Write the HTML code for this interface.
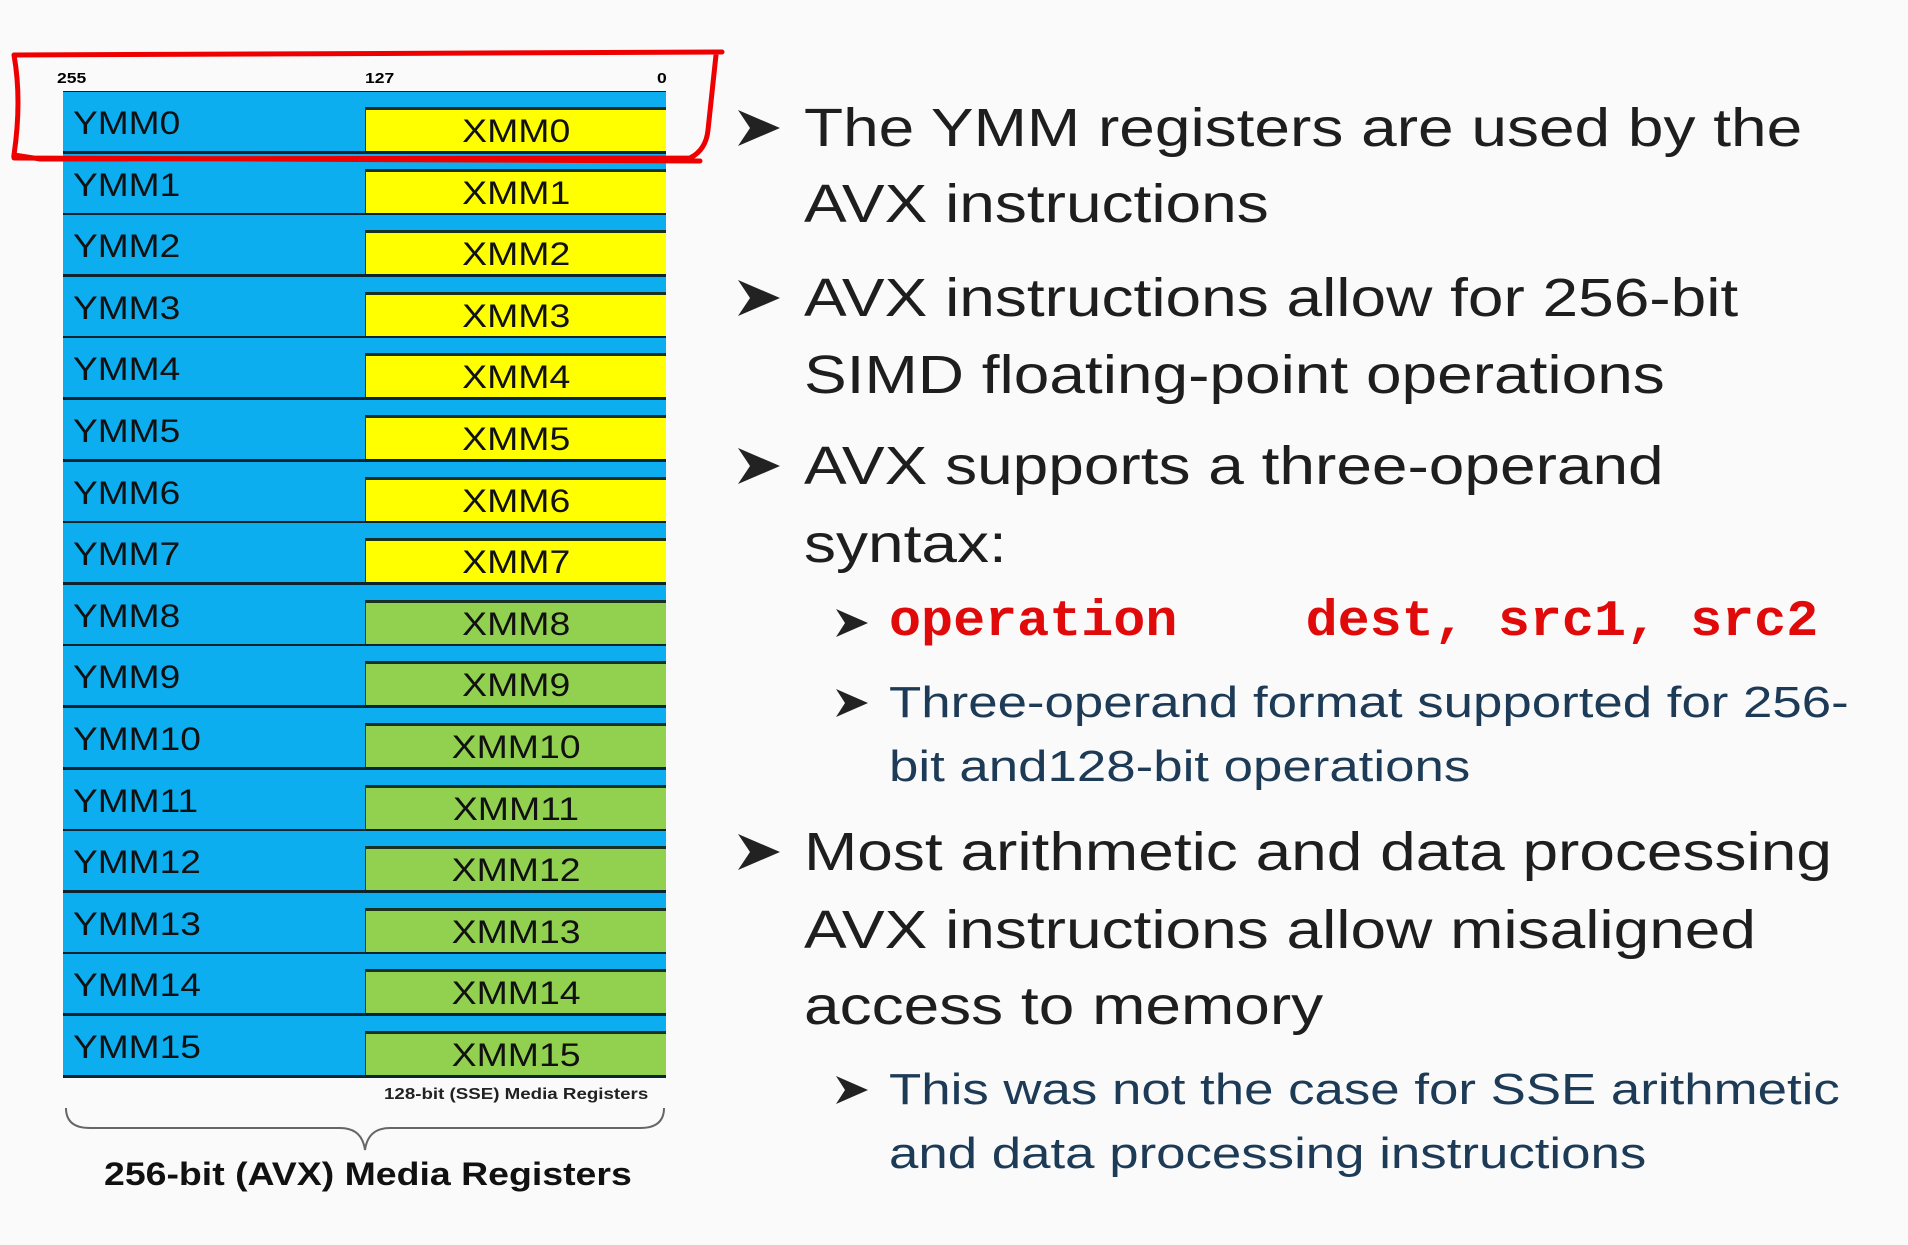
<!DOCTYPE html>
<html><head><meta charset="utf-8"><style>
body{margin:0;width:1908px;height:1245px;background:#fafafa;position:relative;overflow:hidden;font-family:"Liberation Sans",Arial,sans-serif}
.a{position:absolute;white-space:nowrap;transform-origin:0 0;transform:scaleX(1.17)}
.row{position:absolute;left:63px;width:603px;height:62px;background:#0daef0;border-bottom:3px solid #0a2530;box-sizing:border-box}
.row .y{position:absolute;left:10px;top:13px;font-size:32px;line-height:36px;color:#111;transform-origin:0 0;transform:scaleX(1.16)}
.row .x{position:absolute;left:302px;right:0;top:15px;bottom:0;border-top:3px solid #1a3020;border-left:1px solid #333;text-align:center;color:#111}
.row .x span{display:inline-block;font-size:32px;line-height:42px;transform:scaleX(1.17)}
.t{position:absolute;left:804px;font-size:54px;line-height:70px;color:#1e1e1e;white-space:nowrap;transform-origin:0 0;transform:scaleX(1.185)}
.s{position:absolute;left:889px;font-size:44px;line-height:60px;color:#1d3b56;white-space:nowrap;transform-origin:0 0;transform:scaleX(1.2)}
</style></head><body>
<div class="a" style="left:57px;top:70px;font-size:15px;font-weight:bold">255</div>
<div class="a" style="left:365px;top:70px;font-size:15px;font-weight:bold">127</div>
<div class="a" style="left:657px;top:70px;font-size:15px;font-weight:bold">0</div>
<div style="position:absolute;left:63px;top:91px;width:603px;height:987px;border-left:2px solid #0a2530;border-right:2px solid #0a2530;border-top:2px solid #0a2530;box-sizing:border-box"></div>
<div id="rows"></div>
<script>
var h='';for(var i=0;i<16;i++){var c=i<8?'#ffff00':'#92d050';h+='<div class="row" style="top:'+(92+i*61.6)+'px"><div class="y">YMM'+i+'</div><div class="x" style="background:'+c+'"><span>XMM'+i+'</span></div></div>';}
document.getElementById('rows').innerHTML=h;
</script>
<div class="a" style="left:384px;top:1086px;font-size:16px;font-weight:bold;color:#222">128-bit (SSE) Media Registers</div>
<svg style="position:absolute;left:0;top:0" width="1908" height="1245">
<path d="M66 1108 Q66 1128 90 1128 L340 1128 Q362 1128 365 1150 Q368 1128 390 1128 L640 1128 Q664 1128 664 1108" fill="none" stroke="#666" stroke-width="2"/>
<path d="M14 55 L722 52 M14 55 Q22 100 14 155 L40 159 L690 158 Q706 150 708 130 L716 55 M14 158 L700 161" fill="none" stroke="#e00" stroke-width="5" stroke-linecap="round"/>
<g fill="#222">
<polygon points="738,110 780,128 738,146 750,128"/>
<polygon points="738,280 780,298 738,316 750,298"/>
<polygon points="738,448 780,466 738,484 750,466"/>
<polygon points="738,834 780,852 738,870 750,852"/>
<polygon points="836,609 868,623 836,637 845,623"/>
<polygon points="836,689 868,703 836,717 845,703"/>
<polygon points="836,1076 868,1090 836,1104 845,1090"/>
</g>
</svg>
<div class="t" style="top:93px">The YMM registers are used by the</div>
<div class="t" style="top:169px">AVX instructions</div>
<div class="t" style="top:263px">AVX instructions allow for 256-bit</div>
<div class="t" style="top:340px">SIMD floating-point operations</div>
<div class="t" style="top:431px">AVX supports a three-operand</div>
<div class="t" style="top:509px">syntax:</div>
<div style="position:absolute;left:889px;top:593px;font-family:'Liberation Mono',monospace;font-weight:bold;font-size:51px;line-height:60px;color:#e00a0a;white-space:pre;transform-origin:0 0;transform:scaleX(1.047)">operation    dest, src1, src2</div>
<div class="s" style="top:673px">Three-operand format supported for 256-</div>
<div class="s" style="top:737px">bit and128-bit operations</div>
<div class="t" style="top:817px">Most arithmetic and data processing</div>
<div class="t" style="top:895px">AVX instructions allow misaligned</div>
<div class="t" style="top:971px">access to memory</div>
<div class="s" style="top:1060px">This was not the case for SSE arithmetic</div>
<div class="s" style="top:1124px">and data processing instructions</div>
<div class="a" style="left:104px;top:1156px;font-size:32px;font-weight:bold;color:#111">256-bit (AVX) Media Registers</div>
</body></html>
